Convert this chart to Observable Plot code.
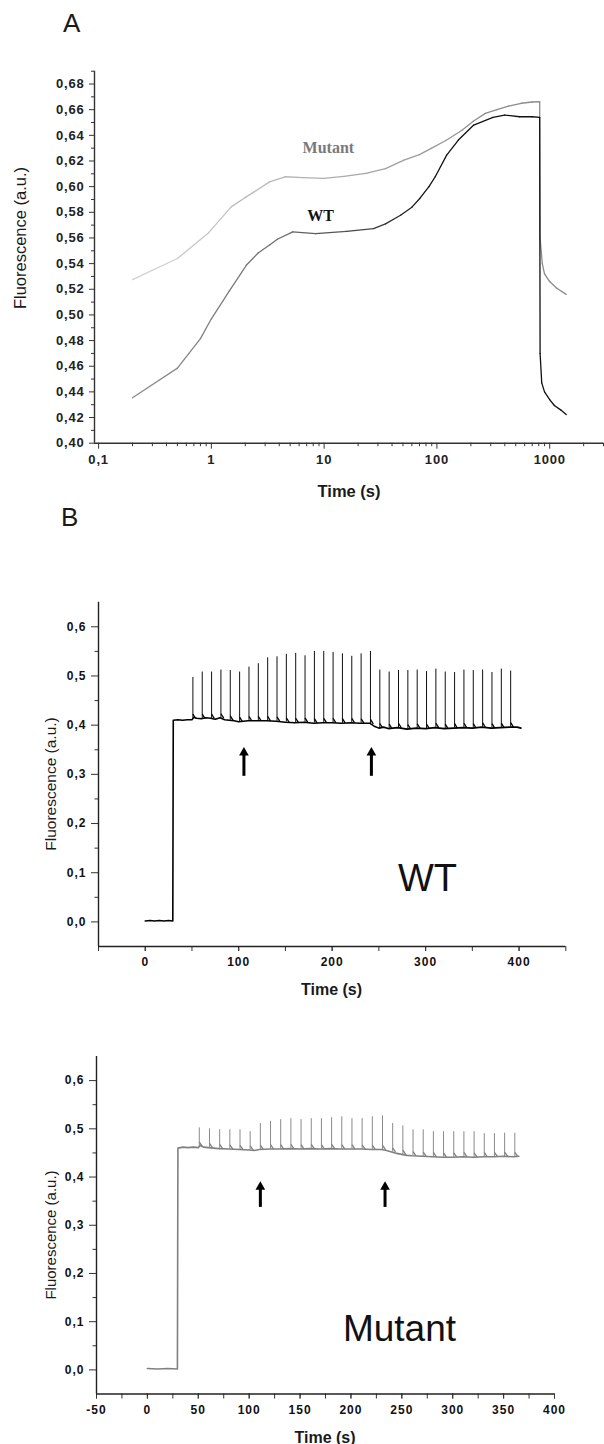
<!DOCTYPE html>
<html><head><meta charset="utf-8">
<script src="https://cdn.jsdelivr.net/npm/d3@7"></script>
<script src="https://cdn.jsdelivr.net/npm/@observablehq/plot@0.6"></script>
<style>
body{margin:0;background:#fff;}
#page{position:relative;width:604px;height:1444px;overflow:hidden;background:#fff;}
#page svg{position:absolute;left:0;}
</style></head><body><div id="page"></div>
<script>
// ---------------- Panel A data ----------------
const timeMutA = [0.2, 0.5, 0.93, 1.5, 2.04, 3.28, 4.5, 6.5, 9.9, 15, 23.5, 35, 51, 70, 89, 120, 167, 210, 269, 340, 431, 560, 700, 815, 822, 860, 900, 1000, 1150, 1400];
const fluoMutA = [0.5275, 0.544, 0.5634, 0.5842, 0.592, 0.6037, 0.6077, 0.607, 0.6064, 0.608, 0.6103, 0.614, 0.6207, 0.625, 0.6298, 0.636, 0.644, 0.651, 0.6571, 0.660, 0.6628, 0.665, 0.666, 0.6662, 0.56, 0.540, 0.532, 0.526, 0.521, 0.516];
const timeWtA = [0.2, 0.5, 0.8, 1.0, 1.44, 2.04, 2.6, 3.28, 3.85, 5.26, 8.4, 15.8, 27.4, 35, 47.6, 60, 70.5, 85, 96.6, 122, 155, 212, 314, 398, 542, 700, 815, 822, 850, 900, 1000, 1100, 1250, 1400];
const fluoWtA = [0.4354, 0.4585, 0.4815, 0.4970, 0.5185, 0.5387, 0.5483, 0.5545, 0.5590, 0.5647, 0.5634, 0.5652, 0.5673, 0.571, 0.5777, 0.584, 0.5908, 0.600, 0.6077, 0.6246, 0.6363, 0.648, 0.654, 0.6558, 0.6545, 0.6545, 0.654, 0.47, 0.447, 0.44, 0.434, 0.4294, 0.426, 0.4224];
const yTicksA = [0.40, 0.42, 0.44, 0.46, 0.48, 0.50, 0.52, 0.54, 0.56, 0.58, 0.60, 0.62, 0.64, 0.66, 0.68];
const yMinorA = [0.41, 0.43, 0.45, 0.47, 0.49, 0.51, 0.53, 0.55, 0.57, 0.59, 0.61, 0.63, 0.65, 0.67, 0.69];
const xTicksA = [0.1, 1, 10, 100, 1000];
const xLabelsA = ["0,1", "1", "10", "100", "1000"];
const xMinorA = [0.2,0.3,0.4,0.5,0.6,0.7,0.8,0.9,2,3,4,5,6,7,8,9,20,30,40,50,60,70,80,90,200,300,400,500,600,700,800,900,2000,3000];
const seriesLabelsA = [{t: 10.9, v: 0.6305, label: "Mutant"}, {t: 9.3, v: 0.5775, label: "WT"}];

// ---------------- Panel B (WT) data ----------------
const baseTimeWT = [0,5,10,15,20,25,29.5,30,35,40,45,50,52,55,60,65,70,75,80,85,90,95,100,105,110,120,130,140,150,160,170,180,190,200,210,220,230,240,245,250,255,260,270,280,290,300,310,320,330,340,350,360,370,380,390,398,402];
const baseFluoWT = [0.002,0.003,0.002,0.003,0.002,0.003,0.002,0.41,0.411,0.410,0.411,0.411,0.416,0.414,0.413,0.415,0.414,0.412,0.415,0.411,0.410,0.409,0.407,0.408,0.409,0.409,0.409,0.408,0.406,0.405,0.406,0.404,0.405,0.405,0.404,0.405,0.404,0.404,0.398,0.394,0.396,0.393,0.395,0.392,0.394,0.393,0.395,0.393,0.394,0.395,0.394,0.396,0.394,0.395,0.396,0.396,0.394];
const spikeTimeWT = [51,61,71,81,91,101,111,121,131,141,151,161,171,181,191,201,211,221,231,241,251,261,271,281,291,301,311,321,331,341,351,361,371,381,391];
const spikeTopWT = [0.497,0.508,0.508,0.512,0.511,0.508,0.518,0.525,0.537,0.539,0.544,0.546,0.541,0.550,0.550,0.548,0.545,0.540,0.545,0.550,0.512,0.508,0.511,0.511,0.512,0.509,0.514,0.508,0.507,0.512,0.511,0.512,0.507,0.514,0.510];
const arrowTimeWT = [105.6, 242];
const arrowLowWT = 0.296, arrowTipWT = 0.344;
const panelLabelWT = [{t: 302, v: 0.088, label: "WT"}];
const xTickMarksWT = [-50,0,50,100,150,200,250,300,350,400,450];
const xTicksWT = [0,100,200,300,400];

// ---------------- Panel B (Mutant) data ----------------
const baseTimeMut = [0,10,20,29.5,30,35,40,45,50,52,55,60,70,80,90,100,105,110,120,130,140,150,160,170,180,190,200,210,220,230,235,240,245,250,255,260,270,280,290,300,310,320,330,340,350,360,365];
const baseFluoMut = [0.003,0.002,0.003,0.002,0.46,0.462,0.461,0.462,0.461,0.466,0.462,0.461,0.459,0.458,0.457,0.456,0.455,0.457,0.458,0.458,0.459,0.458,0.459,0.458,0.459,0.458,0.458,0.458,0.457,0.457,0.455,0.452,0.449,0.447,0.445,0.444,0.443,0.442,0.441,0.441,0.442,0.441,0.442,0.442,0.443,0.442,0.443];
const spikeTimeMut = [51,61,71,81,91,101,111,121,131,141,151,161,171,181,191,201,211,221,231,241,251,261,271,281,291,301,311,321,331,341,351,361];
const spikeTopMut = [0.502,0.500,0.498,0.498,0.498,0.494,0.511,0.5155,0.519,0.521,0.519,0.521,0.521,0.523,0.525,0.521,0.521,0.525,0.527,0.511,0.506,0.498,0.498,0.494,0.494,0.494,0.494,0.494,0.490,0.490,0.491,0.491];
const arrowTimeMut = [111, 233.5];
const arrowLowMut = 0.337, arrowTipMut = 0.3795;
const panelLabelMut = [{t: 247.7, v: 0.085, label: "Mutant"}];
const xTickMarksMut = [-50,-25,0,25,50,75,100,125,150,175,200,225,250,275,300,325,350,375,400];
const xTicksMut = [-50,0,50,100,150,200,250,300,350,400];

const yTicksB = [0, 0.1, 0.2, 0.3, 0.4, 0.5, 0.6];
const yMinorB = [0.05, 0.15, 0.25, 0.35, 0.45, 0.55];
const spikeTail = {height: 0.009, duration: 3}; // small decay after each flash

// ---------------- helpers ----------------
const page = document.getElementById("page");
const FONT = '"Liberation Sans", Arial, Helvetica, sans-serif';
function place(svg, top) { svg.style.top = top + "px"; page.appendChild(svg); return svg; }
function spaced(svg, px) {
  svg.querySelectorAll('g[aria-label$="tick label"]').forEach(g => g.style.letterSpacing = px);
}
function segments(T, V, colorFn) {
  return T.slice(1).map((t, i) => ({x1: T[i], y1: V[i], x2: t, y2: V[i + 1], c: colorFn(Math.sqrt(T[i] * t))}));
}
const mutColor = d3.scaleLog().domain([0.2, 3, 30, 300]).range(["#d4d4d4", "#bababa", "#a4a4a4", "#8c8c8c"]).clamp(true);
const wtColor = d3.scaleLog().domain([0.2, 3, 20, 80]).range(["#909090", "#747474", "#4a4a4a", "#111111"]).clamp(true);

// ---------------- Panel A ----------------
const chartA = Plot.plot({
  width: 604, height: 505,
  marginLeft: 94, marginRight: 1, marginTop: 70.7, marginBottom: 62.3,
  x: {type: "log", domain: [0.092, 3000], label: null},
  y: {domain: [0.40, 0.69], label: null},
  color: {type: "identity"},
  style: `font-family:${FONT};font-size:13px;font-weight:bold;background:transparent;overflow:visible;color:#222;`,
  marks: [
    Plot.axisY({ticks: yMinorA, tickSize: 3, tickFormat: () => "", label: null, stroke: "#333"}),
    Plot.axisY({ticks: yTicksA, tickSize: 5, tickPadding: 5, label: null, stroke: "#333", fill: "#222",
      tickFormat: d => d.toFixed(2).replace(".", ",")}),
    Plot.axisX({ticks: xMinorA, tickSize: 3.5, tickFormat: () => "", label: null, stroke: "#333"}),
    Plot.axisX({ticks: xTicksA, tickSize: 6, tickPadding: 6, label: null, stroke: "#333", fill: "#222",
      tickFormat: d => xLabelsA[xTicksA.indexOf(d)]}),
    Plot.ruleX([0.092], {stroke: "#333", strokeWidth: 1.4}),
    Plot.ruleY([0.40], {stroke: "#333", strokeWidth: 1.4}),
    Plot.link(segments(timeMutA, fluoMutA, mutColor), {x1: "x1", y1: "y1", x2: "x2", y2: "y2", stroke: "c", strokeWidth: 1.3, strokeLinecap: "round"}),
    Plot.link(segments(timeWtA, fluoWtA, wtColor), {x1: "x1", y1: "y1", x2: "x2", y2: "y2", stroke: "c", strokeWidth: 1.3, strokeLinecap: "round"}),
    Plot.text(seriesLabelsA, {x: "t", y: "v", text: "label", fill: d => d.label === "WT" ? "#111" : "#7a7a7a",
      fontFamily: '"Liberation Serif", "Times New Roman", serif', fontWeight: "bold", fontSize: 16})
  ]
});
spaced(chartA, "0.8px");
place(chartA, 0);

// ---------------- Panel B builder ----------------
function panelB({baseT, baseV, spikeT, spikeTop, arrowT, arrowLow, arrowTip, label, labelSize,
                 xDomain, xTickMarks, xTicks, lineColor, spikeColor, margins, height, top}) {
  const interp = d3.scaleLinear().domain(baseT).range(baseV);
  const spikes = spikeT.map((t, i) => ({t, b: interp(t), top: spikeTop[i]}));
  const chart = Plot.plot({
    width: 604, height,
    ...margins,
    x: {domain: xDomain, label: null},
    y: {domain: [-0.05, 0.65], label: null},
    style: `font-family:${FONT};font-size:12px;font-weight:bold;background:transparent;overflow:visible;color:#111;`,
    marks: [
      Plot.axisY({ticks: yMinorB, tickSize: 3.5, tickFormat: () => "", label: null, stroke: "#333"}),
      Plot.axisY({ticks: yTicksB, tickSize: 7, tickPadding: 5, label: null, stroke: "#333", fill: "#111",
        tickFormat: d => d.toFixed(1).replace(".", ",")}),
      Plot.axisX({ticks: xTickMarks, tickSize: 5, tickFormat: () => "", label: null, stroke: "#333"}),
      Plot.axisX({ticks: xTicks, tickSize: 5, tickPadding: 6, label: null, stroke: "#333", fill: "#111",
        tickFormat: d => String(d)}),
      Plot.ruleX([xDomain[0]], {stroke: "#222", strokeWidth: 1.4}),
      Plot.ruleY([-0.05], {stroke: "#222", strokeWidth: 1.4}),
      Plot.ruleX(spikes, {x: "t", y1: "b", y2: "top", stroke: spikeColor, strokeWidth: 1}),
      Plot.link(spikes, {x1: "t", y1: d => d.b + spikeTail.height, x2: d => d.t + spikeTail.duration, y2: "b",
        stroke: lineColor, strokeWidth: 1.3}),
      Plot.line(baseT.map((t, i) => ({t, v: baseV[i]})), {x: "t", y: "v", stroke: lineColor, strokeWidth: 1.6}),
      Plot.ruleX(arrowT, {y1: arrowLow, y2: arrowTip, stroke: "#000", strokeWidth: 3}),
      Plot.dot(arrowT, {x: d => d, y: arrowTip, symbol: "triangle", r: 3.6, fill: "#000", stroke: null}),
      Plot.text(label, {x: "t", y: "v", text: "label", fontSize: labelSize, fontWeight: "normal", fill: "#111"})
    ]
  });
  spaced(chart, "1px");
  return place(chart, top);
}

panelB({baseT: baseTimeWT, baseV: baseFluoWT, spikeT: spikeTimeWT, spikeTop: spikeTopWT,
  arrowT: arrowTimeWT, arrowLow: arrowLowWT, arrowTip: arrowTipWT, label: panelLabelWT, labelSize: 38,
  xDomain: [-50, 450], xTickMarks: xTickMarksWT, xTicks: xTicksWT, lineColor: "#000", spikeColor: "#111",
  margins: {marginLeft: 98, marginRight: 38.7, marginTop: 21.7, marginBottom: 59}, height: 425, top: 580});

panelB({baseT: baseTimeMut, baseV: baseFluoMut, spikeT: spikeTimeMut, spikeTop: spikeTopMut,
  arrowT: arrowTimeMut, arrowLow: arrowLowMut, arrowTip: arrowTipMut, label: panelLabelMut, labelSize: 37,
  xDomain: [-50, 400], xTickMarks: xTickMarksMut, xTicks: xTicksMut, lineColor: "#808080", spikeColor: "#8a8a8a",
  margins: {marginLeft: 96, marginRight: 50, marginTop: 51, marginBottom: 50.5}, height: 439, top: 1005});

// ---------------- Titles and axis labels ----------------
const pageTexts = [
  {text: "A", x: 63, y: 32, size: 26, weight: "normal", rotate: false, anchor: "start"},
  {text: "B", x: 61, y: 526, size: 26, weight: "normal", rotate: false, anchor: "start"},
  {text: "Fluorescence (a.u.)", x: 20, y: 238, size: 16.5, weight: "normal", rotate: true, anchor: "middle"},
  {text: "Time (s)", x: 349, y: 491, size: 16.5, weight: "bold", rotate: false, anchor: "middle", center: true},
  {text: "Fluorescence (a.u.)", x: 50, y: 784, size: 15.5, weight: "normal", rotate: true, anchor: "middle"},
  {text: "Time (s)", x: 331.5, y: 989, size: 16, weight: "bold", rotate: false, anchor: "middle", center: true},
  {text: "Fluorescence (a.u.)", x: 50, y: 1235, size: 15, weight: "normal", rotate: true, anchor: "middle"},
  {text: "Time (s)", x: 325, y: 1437, size: 16, weight: "bold", rotate: false, anchor: "middle", center: true}
];
const overlay = d3.create("svg").attr("width", 604).attr("height", 1444)
  .style("top", "0px").style("pointer-events", "none").style("font-family", FONT);
overlay.selectAll("text").data(pageTexts).join("text")
  .attr("transform", d => `translate(${d.x},${d.y})` + (d.rotate ? " rotate(-90)" : ""))
  .attr("text-anchor", d => d.anchor)
  .attr("dominant-baseline", d => (d.rotate || d.center) ? "central" : "auto")
  .attr("font-size", d => d.size)
  .attr("font-weight", d => d.weight)
  .attr("fill", "#1a1a1a")
  .text(d => d.text);
page.appendChild(overlay.node());
</script>
</body></html>
